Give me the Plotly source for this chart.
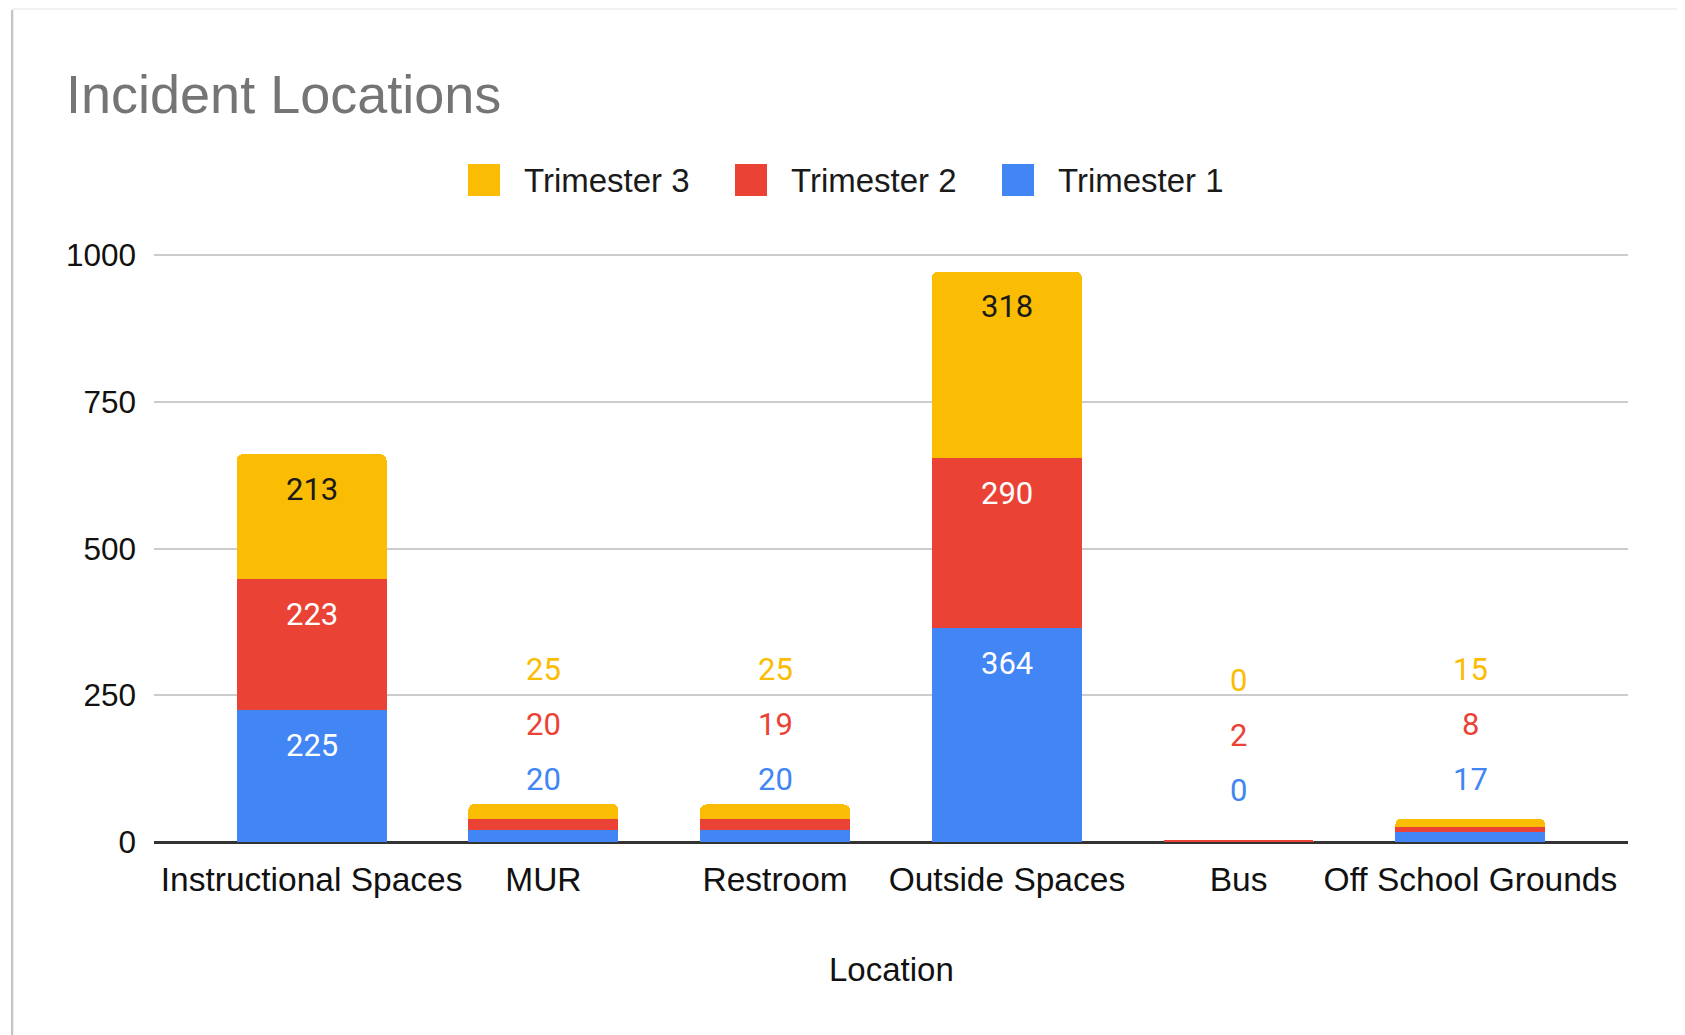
"""Incident Locations: stacked bar of incidents per location, by trimester."""

import plotly.graph_objects as go

# ---- data -----------------------------------------------------------------
locations = [
    "Instructional Spaces",
    "MUR",
    "Restroom",
    "Outside Spaces",
    "Bus",
    "Off School Grounds",
]
trimester_1 = [225, 20, 20, 364, 0, 17]
trimester_2 = [223, 20, 19, 290, 2, 8]
trimester_3 = [213, 25, 25, 318, 0, 15]

series_names = ["Trimester 1", "Trimester 2", "Trimester 3"]
y_ticks = [0, 250, 500, 750, 1000]

# ---- style ----------------------------------------------------------------
COLORS = ["#4285F4", "#EA4335", "#FBBC04"]
INSIDE_TEXT = ["#FFFFFF", "#FFFFFF", "#1A1A1A"]
AXIS_FONT = "Liberation Sans, Arial, sans-serif"
LABEL_FONT = "Roboto, Arial, sans-serif"

# screen geometry (the page body adds an 8px offset to the figure)
W, H = 1685, 1035
BODY = 8
Y_MAX = 1004  # a little headroom so the 1000 gridline is drawn
PLOT_L, PLOT_R, PLOT_T, PLOT_B = 154, 1628, 253, 842
PW = PLOT_R - PLOT_L
PH = PLOT_B - PLOT_T
ML = PLOT_L - BODY
MT = PLOT_T - BODY
MR = W - ML - PW
MB = H - MT - PH


def px_x(x):
    return (x - PLOT_L) / PW


def px_y(y):
    return (PLOT_B - y) / PH


series = [trimester_1, trimester_2, trimester_3]

fig = go.Figure()
for name, vals, color in zip(series_names, series, COLORS):
    fig.add_trace(
        go.Bar(
            name=name,
            x=locations,
            y=vals,
            marker={"color": color, "line": {"width": 0}},
            showlegend=False,
            hoverinfo="x+y+name",
        )
    )

# ---- data labels ----------------------------------------------------------
annotations = []
for i, loc in enumerate(locations):
    segs = [s[i] for s in series]
    inside = min(segs) >= 100
    base = 0
    for k, v in enumerate(segs):
        base += v
        if inside:
            annotations.append(dict(
                x=loc, y=base, xref="x", yref="y", text=str(v),
                showarrow=False, yanchor="middle", yshift=-35,
                font={"family": LABEL_FONT, "size": 31, "color": INSIDE_TEXT[k]},
            ))
        else:
            start = 52 if loc == "Bus" else 63
            annotations.append(dict(
                x=loc, y=0, xref="x", yref="y", text=str(v),
                showarrow=False, yanchor="middle", yshift=start + 55 * k,
                font={"family": LABEL_FONT, "size": 31, "color": COLORS[k]},
            ))

# title
annotations.append(dict(
    x=px_x(64), y=px_y(94), xref="paper", yref="paper", text="Incident Locations",
    showarrow=False, xanchor="left", yanchor="middle",
    font={"family": AXIS_FONT, "size": 54, "color": "#757575"},
))

# axis title
annotations.append(dict(
    x=0.5, y=px_y(969), xref="paper", yref="paper", text="Location",
    showarrow=False, yanchor="middle",
    font={"family": AXIS_FONT, "size": 33, "color": "#111111"},
))

# ---- hand-made legend (large square swatches) -------------------------------
shapes = []
legend_order = [2, 1, 0]
legend_x = [468, 735, 1002]
legend_y = 180
for pos, k in zip(legend_x, legend_order):
    shapes.append(dict(
        type="rect", xref="paper", yref="paper",
        x0=px_x(pos), x1=px_x(pos + 32),
        y0=px_y(legend_y + 16), y1=px_y(legend_y - 16),
        fillcolor=COLORS[k], line={"width": 0},
    ))
    annotations.append(dict(
        x=px_x(pos + 54), y=px_y(legend_y), xref="paper", yref="paper",
        text=series_names[k], showarrow=False, xanchor="left", yanchor="middle",
        font={"family": AXIS_FONT, "size": 33, "color": "#1A1A1A"},
    ))

# ---- card frame -------------------------------------------------------------
shapes.append(dict(
    type="rect", xref="paper", yref="paper", layer="below",
    x0=px_x(13), x1=px_x(1679), y0=px_y(H + 20), y1=px_y(9),
    fillcolor="#FFFFFF", line={"color": "#E2E2E2", "width": 1},
))
shapes.append(dict(
    type="line", xref="paper", yref="paper", layer="below",
    x0=px_x(12), x1=px_x(12), y0=px_y(H + 20), y1=px_y(10),
    line={"color": "#C4C4C4", "width": 2},
))
shapes.append(dict(
    type="line", xref="paper", yref="paper", layer="below",
    x0=px_x(1680), x1=px_x(1680), y0=px_y(H + 20), y1=px_y(12),
    line={"color": "#C8C8C8", "width": 2},
))
shapes.append(dict(
    type="rect", xref="paper", yref="paper", layer="below",
    x0=px_x(1682), x1=px_x(W + 5), y0=px_y(H + 20), y1=px_y(12),
    fillcolor="#F1EEE8", line={"width": 0},
))

fig.update_layout(
    width=W,
    height=H,
    margin={"l": ML, "r": MR, "t": MT, "b": MB, "pad": 0},
    paper_bgcolor="#FFFFFF",
    plot_bgcolor="rgba(0,0,0,0)",
    barmode="stack",
    bargap=0.353,
    barcornerradius=6,
    showlegend=False,
    annotations=annotations,
    shapes=shapes,
    xaxis={
        "range": [-0.68, 5.68],
        "showgrid": False,
        "showline": False,
        "zeroline": False,
        "ticks": "",
        "ticklabelstandoff": 14,
        "tickfont": {"family": AXIS_FONT, "size": 33.5, "color": "#111111"},
    },
    yaxis={
        "range": [0, Y_MAX],
        "tickvals": y_ticks,
        "showgrid": True,
        "gridcolor": "#CCCCCC",
        "gridwidth": 1.5,
        "zeroline": True,
        "zerolinecolor": "#333333",
        "zerolinewidth": 2.5,
        "showline": False,
        "ticks": "",
        "layer": "above traces",
        "ticklabelstandoff": 17,
        "tickfont": {"family": AXIS_FONT, "size": 31.5, "color": "#111111"},
    },
)

fig.write_html("out.html")
